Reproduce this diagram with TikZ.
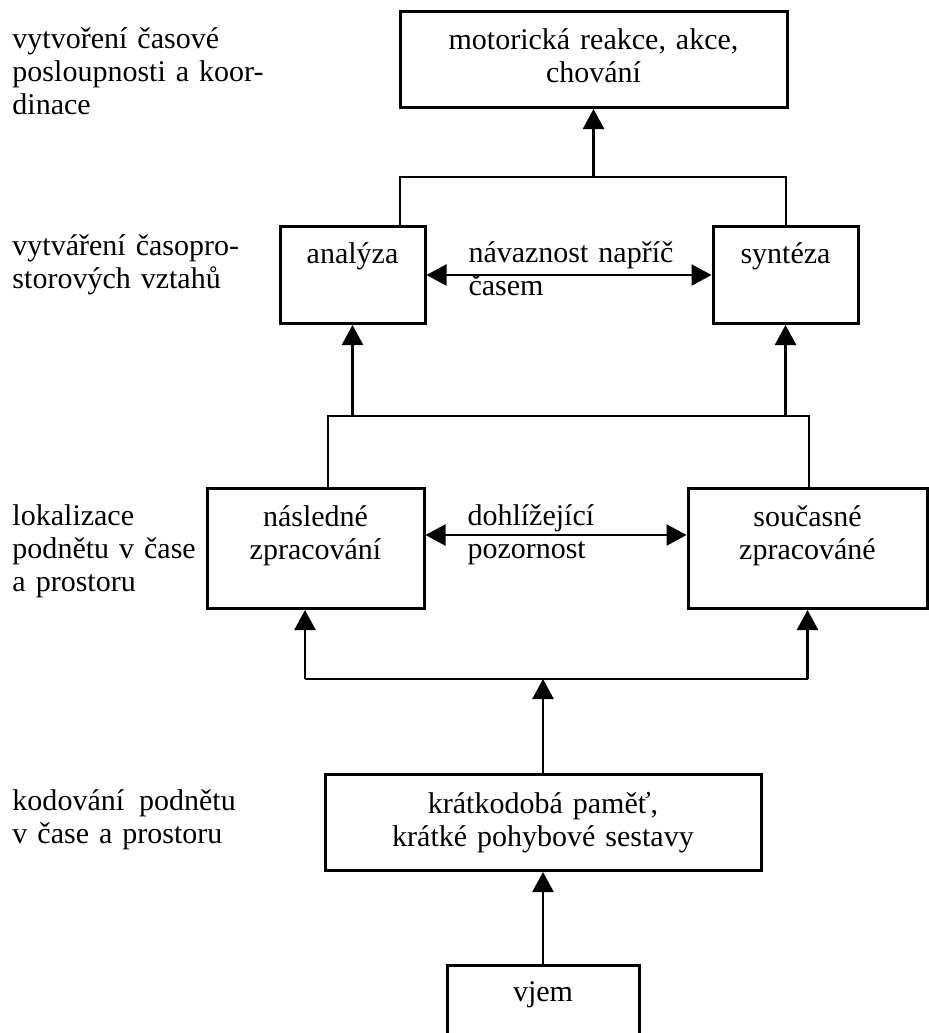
\documentclass[tikz,border=0pt]{standalone}
\usepackage{fontspec}
\setmainfont{Liberation Serif}
\usetikzlibrary{arrows.meta, positioning, calc}

\begin{document}
\begin{tikzpicture}[x=0.4pt, y=-0.4pt, font=\fontsize{12}{13.2}\selectfont,
    box/.style={draw, line width=1.2pt, inner sep=0pt, align=center, anchor=north},
    lbl/.style={anchor=base west, align=left, inner sep=0pt, text width=120pt},
    line/.style={line width=1pt},
    arr/.style={line width=1pt, -{Triangle[width=8.4pt,length=8pt]}},
    darr/.style={line width=1pt, {Triangle[width=8.4pt,length=8pt]}-{Triangle[width=8.4pt,length=8pt]}}]

    \useasboundingbox (0,0) rectangle (928,1033);

    % boxes
    \node[box, text width=154.8pt, text height=15.2pt, text depth=23.2pt] (motor) at (593.5,10)
        {motorická reakce, akce,\\chování};
    \node[box, text width=58pt, text height=14.8pt, text depth=24pt] (analyza) at (352.5,225) {analýza};
    \node[box, text width=58pt, text height=14.8pt, text depth=24pt] (synteza) at (785.5,225) {syntéza};
    \node[box, text width=86.8pt, text height=15.2pt, text depth=32.8pt] (nasledne) at (315.5,487)
        {následné\\zpracování};
    \node[box, text width=95.6pt, text height=15.2pt, text depth=32.8pt] (soucasne) at (807.5,487)
        {současné\\zpracováné};
    \node[box, text width=174.4pt, text height=15.6pt, text depth=22.8pt] (kratkodoba) at (543,773)
        {krátkodobá paměť,\\krátké pohybové sestavy};
    \node[box, text width=76.8pt, text height=14.4pt, text depth=20pt] (vjem) at (543,964) {vjem};

    % side labels
    \node[lbl] (lblkoord) at (12,48) {vytvoření časové\\posloupnosti a koor-\\dinace};
    \node[lbl] (lblvztah) at (12,255) {vytváření časopro-\\storových vztahů};
    \node[lbl] (lbllok) at (12,525) {lokalizace\\podnětu v čase\\a prostoru};
    \node[lbl] (lblkod) at (12,810) {kodování\hspace{0.5em}podnětu\\v čase a prostoru};
    \node[lbl] (lblnav) at (468,262) {návaznost napříč\\časem};
    \node[lbl] (lbldoh) at (467,525) {dohlížející\\pozornost};

    % connectors
    \coordinate (t1) at (400,177);
    \coordinate (t2) at (786,177);
    \draw[line] (t1 |- analyza.north) -- (t1) -- (t2) -- (t2 |- synteza.north);
    \draw[arr] (motor.south |- t1) -- (motor.south);
    \draw[darr] (analyza) -- (synteza);

    \coordinate (m1) at (328,416);
    \coordinate (m2) at (809,416);
    \draw[line] (m1 |- nasledne.north) -- (m1) -- (m2) -- (m2 |- soucasne.north);
    \draw[arr] (analyza.south |- m1) -- (analyza.south);
    \draw[arr] (synteza.south |- m1) -- (synteza.south);

    \coordinate (d1) at (0,535);
    \draw[darr] (nasledne.east |- d1) -- (soucasne.west |- d1);

    \coordinate (b1) at (305,679);
    \draw[line] (b1) -- (soucasne.south |- b1);
    \draw[arr] (b1) -- (b1 |- nasledne.south);
    \draw[arr] (soucasne.south |- b1) -- (soucasne.south);
    \draw[arr] (kratkodoba.north) -- (kratkodoba.north |- b1);
    \draw[arr] (vjem.north) -- (kratkodoba.south);
\end{tikzpicture}
\end{document}
